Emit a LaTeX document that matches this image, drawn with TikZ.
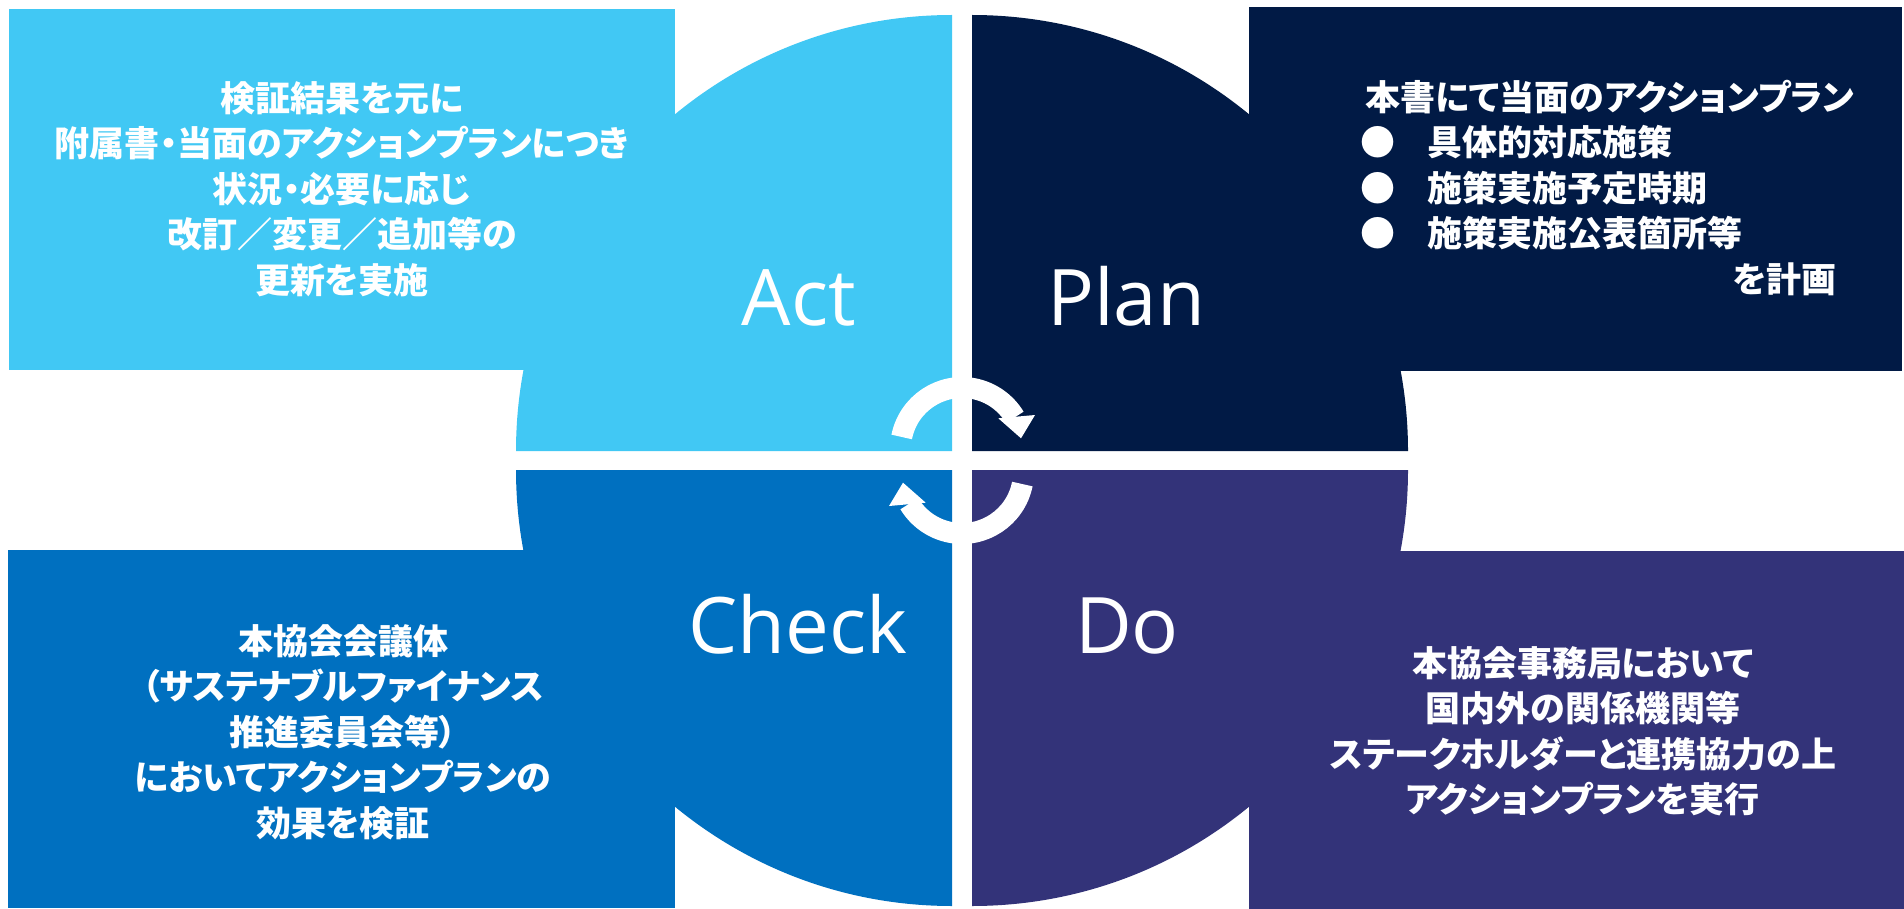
\documentclass[tikz,border=0pt]{standalone}
\usepackage{fontspec}
\setmainfont{Open Sans}
\newfontfamily\jp[RawFeature=+palt]{Noto Sans CJK JP}
\definecolor{actc}{HTML}{41C8F4}
\definecolor{planc}{HTML}{011A45}
\definecolor{checkc}{HTML}{0070C0}
\definecolor{doc}{HTML}{333379}
\tikzset{
  jtext/.style={text=white, font=\jp\bfseries\fontsize{17.5pt}{22.75pt}\selectfont, align=center, inner sep=0pt},
  lbl/.style={text=white, font=\fontsize{39pt}{39pt}\selectfont, inner sep=0pt, anchor=base},
  arrowband/.style={white, line width=10.5pt},
}
\begin{document}
\begin{tikzpicture}[x=0.5pt,y=-0.5pt]
\useasboundingbox (0,0) rectangle (1904,909);
\fill[white] (0,0) rectangle (1904,909);
% rectangles
\fill[actc] (9,9) rectangle (675,370);
\fill[planc] (1249,7) rectangle (1902,371);
\fill[checkc] (8,550) rectangle (675,908);
\fill[doc] (1249,551) rectangle (1904,909);
% quarter discs
\fill[actc] (952,451) -- (516,451) arc[start angle=180, end angle=270, radius=436] -- cycle;
\fill[planc] (972,451) -- (972,15) arc[start angle=270, end angle=360, radius=436] -- cycle;
\fill[checkc] (952,470) -- (516,470) arc[start angle=180, end angle=90, radius=436] -- cycle;
\fill[doc] (972,470) -- (1408,470) arc[start angle=0, end angle=90, radius=436] -- cycle;
% cycle arrows
\draw[arrowband] ([shift={(191.3:61.5)}]962,449) arc[start angle=191.3, end angle=329, radius=61.5];
\fill[white] (998.3,418.3) -- (1035,415) -- (1021,438.3) -- cycle;
\draw[arrowband] ([shift={(11.3:61.5)}]962,472) arc[start angle=11.3, end angle=149, radius=61.5];
\fill[white] (925.7,502.7) -- (889,506) -- (903,482.7) -- cycle;
% labels
\node[lbl] (actlbl) at (799,325) {Act};
\node[lbl] (planlbl) at (1126,325) {Plan};
\node[lbl] (checklbl) at (798,653) {Check};
\node[lbl] (dolbl) at (1127,653) {Do};
% Act text
\node[jtext] (acttxt) at (342,189) {検証結果を元に\\附属書・当面のアクションプランにつき\\状況・必要に応じ\\改訂／変更／追加等の\\更新を実施};
% Plan text
\node[jtext, anchor=west] (plan1) at (1365,97) {本書にて当面のアクションプラン};
\node[jtext] (b1) at (1378,142.5) {●};
\node[jtext] (b2) at (1378,188) {●};
\node[jtext] (b3) at (1378,233.5) {●};
\node[jtext, anchor=west] (plan2) at (1427,142.5) {具体的対応施策};
\node[jtext, anchor=west] (plan3) at (1427,188) {施策実施予定時期};
\node[jtext, anchor=west] (plan4) at (1427,233.5) {施策実施公表箇所等};
\node[jtext, anchor=east] (plan5) at (1837,279) {を計画};
% Check text
\node[jtext] (checktxt) at (343,732) {本協会会議体\\（サステナブルファイナンス\\推進委員会等）\\においてアクションプランの\\効果を検証};
% Do text
\node[jtext] (dotxt) at (1583,731) {本協会事務局において\\国内外の関係機関等\\ステークホルダーと連携協力の上\\アクションプランを実行};
\end{tikzpicture}
\end{document}
